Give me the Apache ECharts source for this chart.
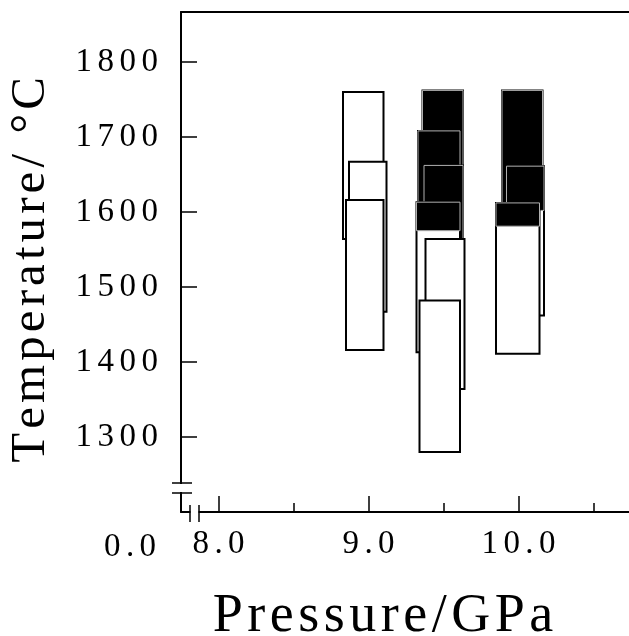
<!DOCTYPE html>
<html>
<head>
<meta charset="utf-8">
<script src="https://cdn.jsdelivr.net/npm/echarts@6/dist/echarts.min.js"></script>
<style>
  html, body { margin: 0; padding: 0; background: #fff; }
  #chart { width: 629px; height: 636px; }
</style>
</head>
<body>
<div id="chart"></div>
<script>
// one entry per run box, in drawing order (later boxes sit on top)
// tempSplit: box is black above this temperature, white below it
const pressMin  = [8.83, 8.87, 8.85, 9.36, 9.33, 9.37, 9.32, 9.38, 9.34, 9.89, 9.92, 9.85];
const pressMax  = [9.10, 9.12, 9.10, 9.63, 9.61, 9.63, 9.61, 9.64, 9.61, 10.16, 10.17, 10.14];
const tempMin   = [1564, 1467, 1416, 1562, 1508, 1462, 1413, 1364, 1280, 1562, 1462, 1411];
const tempMax   = [1760, 1667, 1616, 1762, 1708, 1662, 1613, 1564, 1482, 1762, 1661, 1612];
const tempSplit = [1760, 1667, 1616, 1562, 1508, 1462, 1575, 1564, 1482, 1562, 1602, 1581];

const tempTicks = [1300, 1400, 1500, 1600, 1700, 1800];
const pressTicks = [8, 9, 10];
const pressMinorTicks = [8.5, 9.5, 10.5];

const FONT = "'Liberation Serif', 'DejaVu Serif', serif";
const SIX = '\u2006';   // letter spacing for the tick labels
const HAIR = '\u200A';  // letter spacing for the axis titles
const spaced = (s, sp) => s.split('').join(sp);

const boxes = pressMin.map((p, i) => [p, pressMax[i], tempMin[i], tempMax[i], tempSplit[i]]);

function renderBox(params, api) {
  const p0 = api.value(0), p1 = api.value(1);
  const t0 = api.value(2), t1 = api.value(3), ts = api.value(4);
  const tl = api.coord([p0, t1]);
  const br = api.coord([p1, t0]);
  const sp = api.coord([p1, ts]);
  const children = [{
    type: 'rect',
    shape: { x: tl[0], y: tl[1], width: br[0] - tl[0], height: br[1] - tl[1] },
    style: { fill: '#fff', stroke: '#000', lineWidth: 2 }
  }];
  if (ts < t1) {
    children.push({
      type: 'rect',
      shape: { x: tl[0], y: tl[1], width: br[0] - tl[0], height: sp[1] - tl[1] },
      style: { fill: '#000', stroke: '#b0b0b0', lineWidth: 1 }
    });
  }
  return { type: 'group', children };
}

const chart = echarts.init(document.getElementById('chart'));

const xMin = 7.75, xMax = 7.75 + 448 / 150;

const option = {
  animation: false,
  backgroundColor: '#fff',
  grid: { left: 181, right: 0, top: 12, bottom: 124 },
  xAxis: [
    {
      type: 'value', min: xMin, max: xMax, position: 'bottom',
      axisLine: { show: true, lineStyle: { color: '#000', width: 2 } },
      axisTick: { show: true, inside: true, length: 16, customValues: pressTicks,
                  lineStyle: { color: '#000', width: 1.5 } },
      axisLabel: { customValues: pressTicks, margin: 16, color: '#000',
                   fontFamily: FONT, fontSize: 33,
                   formatter: v => spaced(v.toFixed(1), SIX) },
      splitLine: { show: false }
    },
    {
      type: 'value', min: xMin, max: xMax, position: 'bottom',
      axisLine: { show: false },
      axisTick: { show: true, inside: true, length: 9, customValues: pressMinorTicks,
                  lineStyle: { color: '#000', width: 1.5 } },
      axisLabel: { show: false },
      splitLine: { show: false }
    },
    {
      type: 'value', min: xMin, max: xMax, position: 'top',
      axisLine: { show: true, lineStyle: { color: '#000', width: 2 } },
      axisTick: { show: false }, axisLabel: { show: false }, splitLine: { show: false }
    }
  ],
  yAxis: {
    type: 'value', min: 1200, max: 1866.5,
    axisLine: { show: true, lineStyle: { color: '#000', width: 2 } },
    axisTick: { show: true, inside: true, length: 16, customValues: tempTicks,
                lineStyle: { color: '#000', width: 1.5 } },
    axisLabel: { customValues: tempTicks, margin: 23, color: '#000',
                 fontFamily: FONT, fontSize: 33,
                 formatter: v => spaced(String(v), SIX) },
    splitLine: { show: false }
  },
  series: [{
    type: 'custom',
    renderItem: renderBox,
    encode: { x: [0, 1], y: [2, 3, 4] },
    data: boxes,
    silent: true
  }],
  graphic: [
    // axis titles and the origin label
    { type: 'text', x: 31, y: 270, rotation: Math.PI / 2,
      style: { text: spaced('Temperature/ °C', HAIR), font: '49px ' + FONT,
               fill: '#000', textAlign: 'center', textVerticalAlign: 'middle' } },
    { type: 'text', x: 383, y: 617,
      style: { text: spaced('Pressure/GPa', HAIR), font: '54px ' + FONT,
               fill: '#000', textAlign: 'center', textVerticalAlign: 'middle' } },
    { type: 'text', x: 130, y: 547,
      style: { text: spaced('0.0', SIX), font: '33px ' + FONT,
               fill: '#000', textAlign: 'center', textVerticalAlign: 'middle' } },
    // axis breaks
    { type: 'rect', shape: { x: 176, y: 484, width: 10, height: 8 }, style: { fill: '#fff' }, z: 100 },
    { type: 'line', shape: { x1: 172, y1: 483, x2: 192, y2: 483 }, style: { stroke: '#000', lineWidth: 1.5 }, z: 101 },
    { type: 'line', shape: { x1: 172, y1: 493, x2: 192, y2: 493 }, style: { stroke: '#000', lineWidth: 1.5 }, z: 101 },
    { type: 'rect', shape: { x: 190.5, y: 507, width: 8, height: 10 }, style: { fill: '#fff' }, z: 100 },
    { type: 'line', shape: { x1: 190, y1: 505, x2: 190, y2: 522 }, style: { stroke: '#000', lineWidth: 1.5 }, z: 101 },
    { type: 'line', shape: { x1: 199, y1: 505, x2: 199, y2: 522 }, style: { stroke: '#000', lineWidth: 1.5 }, z: 101 }
  ]
};

chart.setOption(option);
</script>
</body>
</html>
